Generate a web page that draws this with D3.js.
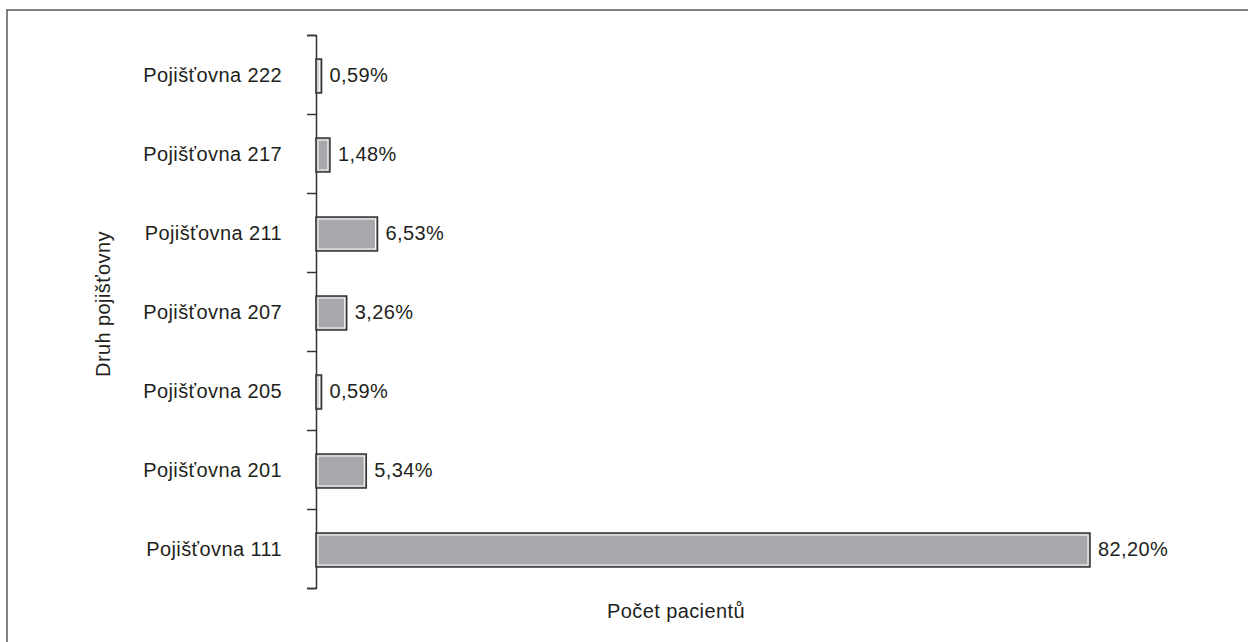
<!DOCTYPE html>
<html lang="cs">
<head>
  <meta charset="utf-8">
  <title>Druh pojišťovny</title>
  <style>
    body { margin: 0; background: #fff; }
    svg text { font-family: "Liberation Sans", Arial, Helvetica, sans-serif; fill: #231f20; }
  </style>
</head>
<body>
  <script src="https://cdn.jsdelivr.net/npm/d3@7"></script>
  <script>
    // data (top to bottom)
    var categories = ["Pojišťovna 222", "Pojišťovna 217", "Pojišťovna 211", "Pojišťovna 207",
                      "Pojišťovna 205", "Pojišťovna 201", "Pojišťovna 111"];
    var shares = [0.59, 1.48, 6.53, 3.26, 0.59, 5.34, 82.20];
    var shareLabels = ["0,59%", "1,48%", "6,53%", "3,26%", "0,59%", "5,34%", "82,20%"];
    var xTitle = "Počet pacientů";
    var yTitle = "Druh pojišťovny";

    var width = 1248;
    var height = 642;
    var axisX = 316;
    var top_ = 35;
    var bottom = 588;
    var barH = 34;

    var svg = d3.select("body").append("svg")
                .attr("width", width)
                .attr("height", height);

    // frame (runs off the right and bottom edge)
    svg.append("rect")
       .attr("x", 7).attr("y", 10)
       .attr("width", 1400).attr("height", 800)
       .attr("fill", "none")
       .attr("stroke", "#5a5a5a")
       .attr("stroke-width", 1.5);

    var x = d3.scaleLinear().domain([0, d3.max(shares)]).range([axisX, 1090]);
    var y = d3.scaleBand().domain(categories).range([top_, bottom]);

    // axis with ticks on category boundaries
    var yb = d3.scaleLinear().domain([0, categories.length]).range([top_, bottom]);
    var axis = svg.append("g")
       .attr("transform", "translate(" + axisX + ",0)")
       .call(d3.axisLeft(yb).tickValues(d3.range(categories.length + 1))
                            .tickFormat("").tickSizeOuter(0).tickSize(9));
    axis.selectAll("path, line").attr("stroke", "#333").attr("stroke-width", 1.5);

    // bars
    var bars = svg.append("g").selectAll("g").data(shares).enter().append("g");

    bars.append("rect")
        .attr("x", axisX)
        .attr("y", function(d, i) { return y.bandwidth() / 2 + y(categories[i]) - barH / 2 + 1.5; })
        .attr("width", function(d) { return x(d) - axisX; })
        .attr("height", barH)
        .attr("fill", "#a7a8ab")
        .attr("stroke", "#333")
        .attr("stroke-width", 1.5);

    bars.append("rect")
        .attr("x", axisX + 2)
        .attr("y", function(d, i) { return y.bandwidth() / 2 + y(categories[i]) - barH / 2 + 3.5; })
        .attr("width", function(d) { return Math.max(0, x(d) - axisX - 4); })
        .attr("height", barH - 4)
        .attr("fill", "none")
        .attr("stroke", "#fff")
        .attr("stroke-width", 1);

    // value labels
    bars.append("text")
        .attr("x", function(d) { return x(d) + 8; })
        .attr("y", function(d, i) { return y(categories[i]) + y.bandwidth() / 2 + 7; })
        .attr("font-size", 20)
        .attr("letter-spacing", 0.4)
        .text(function(d, i) { return shareLabels[i]; });

    // category labels
    svg.append("g").selectAll("text").data(categories).enter().append("text")
       .attr("x", 282)
       .attr("y", function(d) { return y(d) + y.bandwidth() / 2 + 7; })
       .attr("text-anchor", "end")
       .attr("font-size", 20)
       .attr("letter-spacing", 0.4)
       .text(function(d) { return d; });

    // titles
    svg.append("text")
       .attr("x", 676).attr("y", 618)
       .attr("text-anchor", "middle")
       .attr("font-size", 20)
       .attr("letter-spacing", 0.4)
       .text(xTitle);

    svg.append("text")
       .attr("transform", "translate(110,304) rotate(-90)")
       .attr("text-anchor", "middle")
       .attr("font-size", 20)
       .attr("letter-spacing", 0.4)
       .text(yTitle);
  </script>
</body>
</html>
